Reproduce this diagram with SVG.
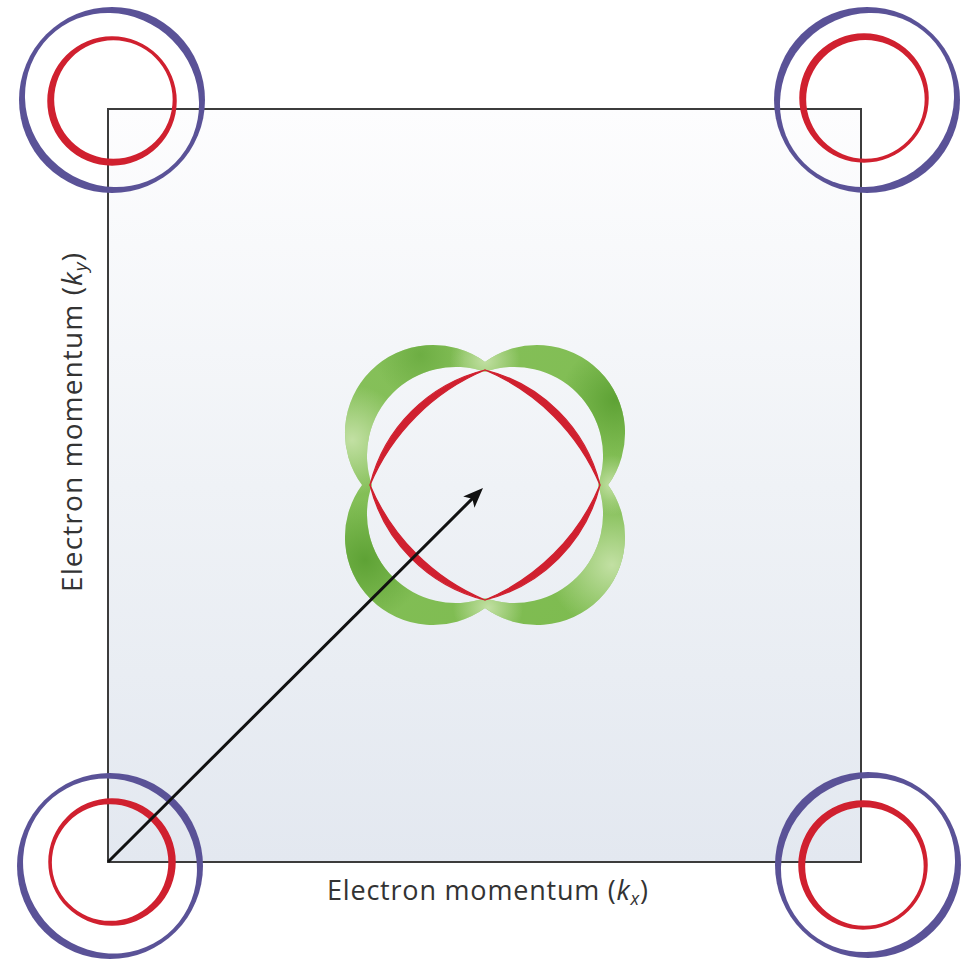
<svg xmlns="http://www.w3.org/2000/svg" width="968" height="961" viewBox="0 0 968 961">
<defs>
<linearGradient id="bg" x1="0" y1="0" x2="0" y2="1">
<stop offset="0" stop-color="#fdfdfe"/>
<stop offset="0.5" stop-color="#eff2f6"/>
<stop offset="1" stop-color="#e3e8f0"/>
</linearGradient>
<linearGradient id="gbase" x1="0" y1="0" x2="1" y2="1">
<stop offset="0" stop-color="#86c05a"/>
<stop offset="1" stop-color="#7dbb4f"/>
</linearGradient>
<radialGradient id="glight"><stop offset="0" stop-color="#c2e0a3" stop-opacity="1"/><stop offset="1" stop-color="#c2e0a3" stop-opacity="0"/></radialGradient>
<radialGradient id="gdark"><stop offset="0" stop-color="#5ea235" stop-opacity="1"/><stop offset="1" stop-color="#5ea235" stop-opacity="0"/></radialGradient>
<clipPath id="gclip"><path clip-rule="evenodd" d="M485,362 A88,88 0 0 1 608,485 A88,88 0 0 1 485,608 A88,88 0 0 1 362,485 A88,88 0 0 1 485,362 Z M485,372 A88.6,88.6 0 0 1 598,485 A88.6,88.6 0 0 1 485,598 A88.6,88.6 0 0 1 372,485 A88.6,88.6 0 0 1 485,372 Z"/></clipPath>
<mask id="m-tl" maskUnits="userSpaceOnUse" x="0" y="0" width="968" height="961">
<circle cx="112" cy="100" r="93" fill="#fff"/>
<ellipse cx="112" cy="100" rx="85" ry="89" transform="rotate(-45 112 100)" fill="#000"/>
</mask>
<mask id="m-tr" maskUnits="userSpaceOnUse" x="0" y="0" width="968" height="961">
<circle cx="867" cy="100" r="93" fill="#fff"/>
<ellipse cx="867" cy="100" rx="85" ry="89" transform="rotate(45 867 100)" fill="#000"/>
</mask>
<mask id="m-bl" maskUnits="userSpaceOnUse" x="0" y="0" width="968" height="961">
<circle cx="110" cy="866" r="93" fill="#fff"/>
<ellipse cx="110" cy="866" rx="85.5" ry="89" transform="rotate(-40 110 866)" fill="#000"/>
</mask>
<mask id="m-br" maskUnits="userSpaceOnUse" x="0" y="0" width="968" height="961">
<circle cx="868" cy="865" r="93" fill="#fff"/>
<ellipse cx="868" cy="865" rx="85" ry="89" transform="rotate(45 868 865)" fill="#000"/>
</mask>
<marker id="ah" viewBox="-12 -9 24 18" markerWidth="24" markerHeight="18" refX="0" refY="0" orient="auto" markerUnits="userSpaceOnUse">
<path d="M10,0 L-10,-8 L-5,0 L-10,8 Z" fill="#111"/>
</marker>
</defs>
<style>
.blue{fill:#5a5297}
.red{fill:#d0202f;fill-rule:evenodd}
.redf{fill:#d0202f;stroke:#d0202f;stroke-width:1.2;stroke-linejoin:round}
.lbl{font-family:"Open Sans","Noto Sans","Liberation Sans",sans-serif;fill:#333}
</style>

<g id="zone">
<rect x="108" y="109" width="753" height="753" fill="url(#bg)" stroke="#3c3c3c" stroke-width="2"/>
</g>

<g id="corner-tl">
<rect class="blue" x="15" y="3" width="194" height="194" mask="url(#m-tl)"/>
<path class="red" d="M47.25,101 A64.75,64.75 0 1 0 176.75,101 A64.75,64.75 0 1 0 47.25,101 Z M54.16,99.59 A59.25,59.25 0 1 0 172.66,99.59 A59.25,59.25 0 1 0 54.16,99.59 Z"/>
</g>
<g id="corner-tr">
<rect class="blue" x="770" y="3" width="194" height="194" mask="url(#m-tr)"/>
<path class="red" d="M799.25,98 A64.75,64.75 0 1 0 928.75,98 A64.75,64.75 0 1 0 799.25,98 Z M806.16,99.41 A59.25,59.25 0 1 0 924.66,99.41 A59.25,59.25 0 1 0 806.16,99.41 Z"/>
</g>
<g id="corner-bl">
<rect class="blue" x="13" y="769" width="194" height="194" mask="url(#m-bl)"/>
<path class="red" d="M48.25,862 A63.75,63.75 0 1 0 175.75,862 A63.75,63.75 0 1 0 48.25,862 Z M51.85,862.6 A58.25,58.25 0 1 0 168.35,862.6 A58.25,58.25 0 1 0 51.85,862.6 Z"/>
</g>
<g id="corner-br">
<rect class="blue" x="771" y="768" width="194" height="194" mask="url(#m-br)"/>
<path class="red" d="M798.25,865 A64.75,64.75 0 1 0 927.75,865 A64.75,64.75 0 1 0 798.25,865 Z M805.16,866.41 A59.25,59.25 0 1 0 923.66,866.41 A59.25,59.25 0 1 0 805.16,866.41 Z"/>
</g>

<g id="green-surface" clip-path="url(#gclip)">
<rect x="340" y="340" width="290" height="290" fill="url(#gbase)"/>
<circle cx="352" cy="440" r="55" fill="url(#glight)"/>
<circle cx="612" cy="565" r="65" fill="url(#glight)"/>
<circle cx="485" cy="360" r="35" fill="url(#glight)"/>
<circle cx="488" cy="608" r="35" fill="url(#glight)"/>
<circle cx="612" cy="485" r="30" fill="url(#glight)"/>
<circle cx="365" cy="560" r="60" fill="url(#gdark)"/>
<circle cx="615" cy="400" r="55" fill="url(#gdark)"/>
<circle cx="420" cy="355" r="45" fill="url(#gdark)" opacity="0.6"/>
</g>

<g id="red-surface">
<path class="redf" d="M485,370 A157,157 0 0 1 600,485 A215,215 0 0 0 485,370 Z"/>
<path class="redf" d="M600,485 A157,157 0 0 1 485,600 A215,215 0 0 0 600,485 Z"/>
<path class="redf" d="M485,600 A157,157 0 0 1 370,485 A215,215 0 0 0 485,600 Z"/>
<path class="redf" d="M370,485 A157,157 0 0 1 485,370 A215,215 0 0 0 370,485 Z"/>
</g>

<g id="connectors">
<line x1="108" y1="862" x2="475.9" y2="495.1" stroke="#111" stroke-width="3" marker-end="url(#ah)"/>
</g>

<g id="labels">
<text class="lbl" x="327" y="900" font-size="27" textLength="321" lengthAdjust="spacing">Electron momentum (<tspan font-style="italic">k</tspan><tspan font-style="italic" font-size="18" dy="5">x</tspan><tspan dy="-5">)</tspan></text>
<text class="lbl" transform="translate(82,592) rotate(-90)" font-size="28" textLength="339" lengthAdjust="spacing">Electron momentum (<tspan font-style="italic">k</tspan><tspan font-style="italic" font-size="19" dy="5">y</tspan><tspan dy="-5">)</tspan></text>
</g>
</svg>
